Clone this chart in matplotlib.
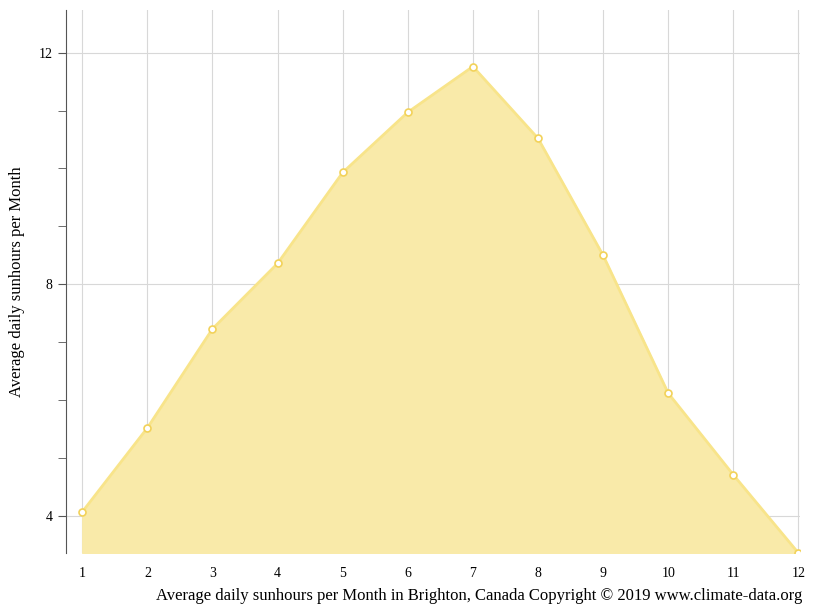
import matplotlib.pyplot as plt

months = [1, 2, 3, 4, 5, 6, 7, 8, 9, 10, 11, 12]
sunhours = [4.07, 5.52, 7.23, 8.36, 9.93, 10.97, 11.76, 10.52, 8.50, 6.12, 4.71, 3.36]

plt.rcParams['font.family'] = ['Liberation Serif', 'DejaVu Serif']

fig = plt.figure(figsize=(8.15, 6.11), dpi=100)
ax = fig.add_axes([0.081, 0.095, 0.901, 0.889])

ax.fill_between(months, sunhours, 3.36, color='#f9eaa9', zorder=2)
ax.plot(months, sunhours, color='#f8e48a', lw=2, zorder=3)
ax.plot(months, sunhours, 'o', mfc='white', mec='#f2d25a', ms=5, mew=1.2, zorder=4)

ax.set_xlim(0.75, 12.03)
ax.set_ylim(3.36, 12.74)
ax.set_xticks(months)
ax.set_yticks([4, 8, 12])
ax.set_yticks([5, 6, 7, 9, 10, 11], minor=True)
ax.grid(True, color='#d8d8d8', lw=0.8, zorder=1)
ax.tick_params(axis='x', length=0, pad=10, labelsize=10)
ax.tick_params(axis='y', which='both', length=6, color='#555555', labelsize=10)
for s in ['top', 'right', 'bottom']:
    ax.spines[s].set_visible(False)
ax.spines['left'].set_color('#555555')

ax.set_ylabel('Average daily sunhours per Month', fontsize=12, labelpad=10)
fig.text(0.984, 0.018, 'Average daily sunhours per Month in Brighton, Canada Copyright © 2019 www.climate-data.org',
         ha='right', fontsize=12)

fig.savefig('out.png')
